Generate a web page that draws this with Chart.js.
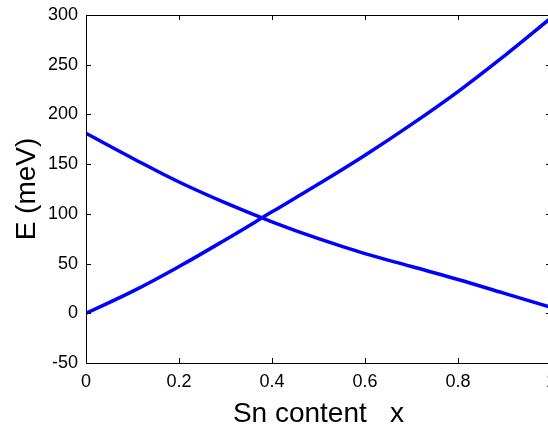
<!DOCTYPE html>
<html>
<head>
<meta charset="utf-8">
<script src="https://cdn.jsdelivr.net/npm/chart.js@4/dist/chart.umd.min.js"></script>
<style>
    html, body { margin: 0; padding: 0; background: #fff; overflow: hidden; }
    #wrap { width: 556px; height: 427px; }
</style>
</head>
<body>
<div id="wrap"><canvas id="energy-chart" width="556" height="427"></canvas></div>
<script>
// Sn content and the two band energies (meV)
const snContent = [0, 0.1, 0.2, 0.3, 0.4, 0.5, 0.6, 0.7, 0.8, 0.9, 1.0];
const risingBand = [0, 22, 47, 74, 102, 130, 159, 190, 223, 259, 297];
const fallingBand = [181, 156, 132, 111, 92, 75, 60, 47, 34, 20, 6];

const xTicks = [0, 0.2, 0.4, 0.6, 0.8, 1];
const yTicks = [-50, 0, 50, 100, 150, 200, 250, 300];

const fontFamily = "'Liberation Sans', Arial, sans-serif";
const toPoints = (ys) => snContent.map((x, i) => ({ x: x, y: ys[i] }));

// closed box with inward tick marks on all four sides
const boxPlugin = {
    id: 'box',
    afterDraw(chart) {
        const { ctx, chartArea: a, scales } = chart;
        const len = 5;
        ctx.save();
        ctx.strokeStyle = '#000';
        ctx.lineWidth = 1;
        ctx.beginPath();
        ctx.rect(a.left + 0.5, a.top + 0.5, a.right - a.left, a.bottom - a.top);
        xTicks.forEach(v => {
            const px = Math.round(scales.x.getPixelForValue(v)) + 0.5;
            ctx.moveTo(px, a.bottom); ctx.lineTo(px, a.bottom - len);
            ctx.moveTo(px, a.top); ctx.lineTo(px, a.top + len);
        });
        yTicks.forEach(v => {
            const py = Math.round(scales.y.getPixelForValue(v)) + 0.5;
            ctx.moveTo(a.left, py); ctx.lineTo(a.left + len, py);
            ctx.moveTo(a.right, py); ctx.lineTo(a.right - len, py);
        });
        ctx.stroke();
        ctx.restore();
    }
};

const lineStyle = {
    borderColor: '#0000ff',
    borderWidth: 3.5,
    pointRadius: 0,
    fill: false,
    tension: 0.4
};

new Chart(document.getElementById('energy-chart'), {
    type: 'line',
    data: {
        datasets: [
            Object.assign({ label: 'rising', data: toPoints(risingBand) }, lineStyle),
            Object.assign({ label: 'falling', data: toPoints(fallingBand) }, lineStyle)
        ]
    },
    options: {
        responsive: false,
        animation: false,
        layout: { padding: { top: 15, right: 5, left: 0, bottom: 0 } },
        plugins: { legend: { display: false }, tooltip: { enabled: false } },
        scales: {
            x: {
                type: 'linear',
                min: 0,
                max: 1,
                grid: { display: false, drawTicks: false },
                border: { display: false },
                afterBuildTicks: (s) => { s.ticks = xTicks.map(v => ({ value: v })); },
                afterFit: (s) => { s.height = 64; s.paddingLeft = 0; s.paddingRight = 0; },
                ticks: {
                    color: '#000',
                    padding: 8,
                    maxRotation: 0,
                    font: { family: fontFamily, size: 18 },
                    callback: (v) => String(v)
                },
                title: {
                    display: true,
                    text: 'Sn content   x',
                    color: '#000',
                    font: { family: fontFamily, size: 28 },
                    padding: { top: 0, bottom: -4 }
                }
            },
            y: {
                min: -50,
                max: 300,
                grid: { display: false, drawTicks: false },
                border: { display: false },
                afterBuildTicks: (s) => { s.ticks = yTicks.map(v => ({ value: v })); },
                afterFit: (s) => { s.width = 86; s.paddingTop = 0; s.paddingBottom = 0; },
                ticks: {
                    color: '#000',
                    padding: 8,
                    font: { family: fontFamily, size: 18 }
                },
                title: {
                    display: true,
                    text: 'E (meV)',
                    color: '#000',
                    font: { family: fontFamily, size: 28 },
                    padding: { top: 10, bottom: 0 }
                }
            }
        }
    },
    plugins: [boxPlugin]
});
</script>
</body>
</html>
